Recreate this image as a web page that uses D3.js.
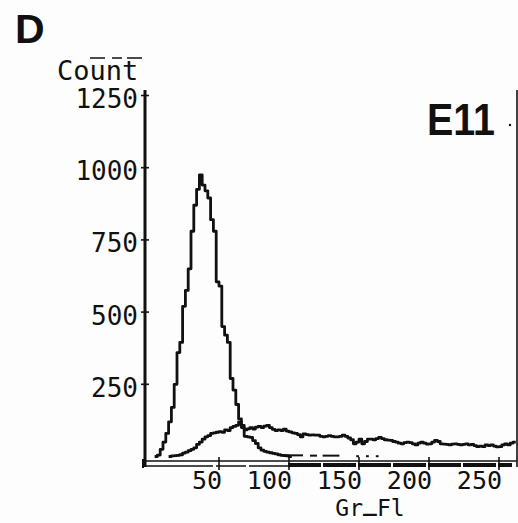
<!DOCTYPE html>
<html>
<head>
<meta charset="utf-8">
<script src="https://cdn.jsdelivr.net/npm/d3@7"></script>
<style>
  html, body { margin: 0; padding: 0; background: #fdfdfd; }
  svg { display: block; }
</style>
</head>
<body>
<script>
// ---- data ----
const binWidth = 2; // channels per histogram bin
// narrow peak histogram, bins starting at channel 0
const peakCounts = [0,0,0,5,25,50,80,120,170,250,360,395,520,575,650,780,870,925,975,940,
  920,895,820,780,605,590,450,420,395,270,230,180,130,100,70,68,66,55,45,30,
  22,18,15,13,11,9,6,4,3,2,0];
// broad histogram, bins starting at channel 0
const broadCounts = [0,0,0,0,0,0,0,0,
  2,3,4,6,12,15,20,25,30,42,50,60,68,72,80,82,84,86,84,92,90,100,104,108,120,108,
  92,96,100,95,102,104,100,105,108,100,94,90,92,90,95,88,85,82,80,76,68,78,76,74,
  75,74,74,70,68,70,72,70,68,68,70,74,70,64,58,44,50,60,44,52,60,60,58,62,66,62,
  58,57,56,52,50,46,44,48,50,48,44,40,46,50,46,43,44,50,56,52,44,43,42,40,43,44,
  42,40,42,44,40,42,38,34,36,34,40,38,40,36,33,34,40,44,40,46,50];
// faint dashed tail of the narrow peak near the baseline: [from channel, to channel, count]
const tailSegments = [[96,110,4],[115,120,3],[124,136,3],[148,150,1],[155,157,1],[162,164,1]];
const yTicks = [250, 500, 750, 1000, 1250];
const xTicks = [50, 100, 150, 200, 250];
const yTitle = "Count";
const xTitleParts = ["Gr", "_", "Fl"];
const panelLabel = "D";
const sampleLabel = "E11";

// ---- layout ----
const W = 518, H = 523;
const svg = d3.select("body").append("svg").attr("width", W).attr("height", H);
const x = d3.scaleLinear().domain([0, 262]).range([149, 515.8]);
const y = d3.scaleLinear().domain([0, 1250]).range([456.5, 95.5]);
const ink = "#111";
const mono = "'DejaVu Sans Mono', monospace";

// panel label
svg.append("text").attr("x", 15).attr("y", 43)
  .attr("font-family", "'Liberation Sans', Arial, sans-serif").attr("font-weight", "bold")
  .attr("font-size", 41).attr("fill", ink).text(panelLabel);

// sample label
svg.append("text").attr("x", 427).attr("y", 135)
  .attr("font-family", "'Liberation Sans', Arial, sans-serif").attr("font-weight", "bold")
  .attr("font-size", 44).attr("fill", ink)
  .attr("textLength", 68).attr("lengthAdjust", "spacingAndGlyphs").text(sampleLabel);
svg.append("circle").attr("cx", 510).attr("cy", 125).attr("r", 1.2).attr("fill", ink);

// dashed fragment above y title
svg.append("line").attr("x1", 90).attr("x2", 142).attr("y1", 58).attr("y2", 58)
  .attr("stroke", ink).attr("stroke-width", 1.5).attr("stroke-dasharray", "15,7,10,5,15");

// y title
svg.append("text").attr("x", 57).attr("y", 80)
  .attr("font-family", mono).attr("font-size", 27).attr("fill", ink).text(yTitle);

// right frame
svg.append("line").attr("x1", 517).attr("x2", 517).attr("y1", 90).attr("y2", 467)
  .attr("stroke", ink).attr("stroke-width", 1.6);

// y axis line
svg.append("line").attr("x1", 145).attr("x2", 145).attr("y1", 90).attr("y2", 467)
  .attr("stroke", ink).attr("stroke-width", 3);

// y ticks via axis generator (ticks drawn both sides)
const yAxis = d3.axisLeft(y).tickValues(yTicks).tickSize(0).tickFormat("");
svg.append("g").attr("transform", "translate(145,0)").call(yAxis)
  .call(g => g.select(".domain").remove());
yTicks.forEach(t => {
  svg.append("line").attr("x1", 141).attr("x2", 149).attr("y1", y(t)).attr("y2", y(t))
    .attr("stroke", ink).attr("stroke-width", 1.6);
  svg.append("text").attr("x", 138).attr("y", y(t) + 12.5)
    .attr("text-anchor", "end").attr("font-family", mono).attr("font-size", 26)
    .attr("fill", ink).text(t);
});

// x axis: double baseline
svg.append("line").attr("x1", 143).attr("x2", 517).attr("y1", 461).attr("y2", 461)
  .attr("stroke", ink).attr("stroke-width", 1.6);
svg.append("line").attr("x1", 143).attr("x2", 290).attr("y1", 466).attr("y2", 466)
  .attr("stroke", ink).attr("stroke-width", 1.6).attr("stroke-dasharray", "70,3,30,3,40");
svg.append("line").attr("x1", 288).attr("x2", 512).attr("y1", 465).attr("y2", 465)
  .attr("stroke", ink).attr("stroke-width", 4).attr("stroke-dasharray", "33,2");
svg.append("line").attr("x1", 143).attr("x2", 143).attr("y1", 459).attr("y2", 468)
  .attr("stroke", ink).attr("stroke-width", 2);

const xAxis = d3.axisBottom(x).tickValues(xTicks).tickSize(0).tickFormat("");
svg.append("g").attr("transform", "translate(0,461)").call(xAxis)
  .call(g => g.select(".domain").remove());
xTicks.forEach(t => {
  svg.append("line").attr("x1", x(t)).attr("x2", x(t)).attr("y1", 457).attr("y2", 470)
    .attr("stroke", ink).attr("stroke-width", 1.6);
  svg.append("text").attr("x", x(t) + 3).attr("y", 489)
    .attr("text-anchor", "end").attr("font-family", mono).attr("font-size", 25)
    .attr("fill", ink).text(t);
});

// x title (underscore raised so it sits on the baseline as in the plotter font)
const xt = svg.append("text").attr("x", 370).attr("y", 516).attr("text-anchor", "middle")
  .attr("font-family", mono).attr("font-size", 23).attr("fill", ink);
xt.append("tspan").text(xTitleParts[0]);
xt.append("tspan").attr("dy", -5).attr("font-weight", "bold").text(xTitleParts[1]);
xt.append("tspan").attr("dy", 5).text(xTitleParts[2]);

// histograms
const line = d3.line()
  .x(d => x(d[0])).y(d => y(d[1]))
  .curve(d3.curveStepAfter);
function toPts(arr, from, to) {
  const pts = [];
  arr.forEach((c, i) => {
    const ch = i * binWidth;
    if (ch >= from && ch <= to) pts.push([ch, c]);
  });
  const last = pts[pts.length - 1];
  pts.push([last[0] + binWidth, last[1]]);
  return pts;
}
svg.append("path").attr("d", line(toPts(broadCounts, 14, 260)))
  .attr("fill", "none").attr("stroke", ink).attr("stroke-width", 2.8)
  .attr("stroke-linejoin", "round");
svg.append("path").attr("d", line(toPts(peakCounts, 4, 100)))
  .attr("fill", "none").attr("stroke", ink).attr("stroke-width", 2.8)
  .attr("stroke-linejoin", "round");
tailSegments.forEach(s => {
  svg.append("path").attr("d", line([[s[0], s[2]], [s[1], s[2]]]))
    .attr("fill", "none").attr("stroke", ink).attr("stroke-width", 2);
});
</script>
</body>
</html>
